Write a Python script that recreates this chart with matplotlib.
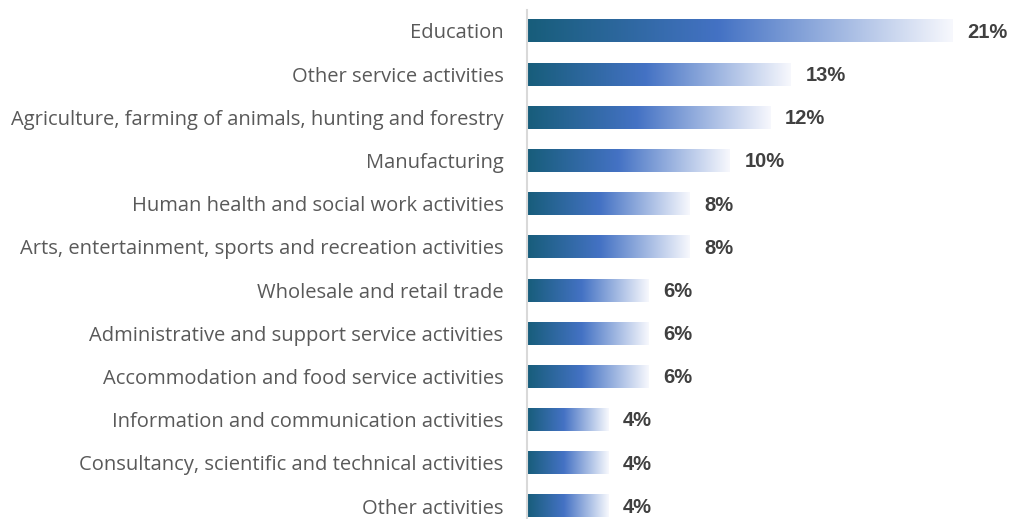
import numpy as np
import matplotlib.pyplot as plt
from matplotlib.colors import LinearSegmentedColormap

sectors = ['Education',
           'Other service activities',
           'Agriculture, farming of animals, hunting and forestry',
           'Manufacturing',
           'Human health and social work activities',
           'Arts, entertainment, sports and recreation activities',
           'Wholesale and retail trade',
           'Administrative and support service activities',
           'Accommodation and food service activities',
           'Information and communication activities',
           'Consultancy, scientific and technical activities',
           'Other activities']
shares = [21, 13, 12, 10, 8, 8, 6, 6, 6, 4, 4, 4]

plt.rcParams['font.family'] = ['Open Sans', 'DejaVu Sans']

# teal -> blue -> near white, stretched over each bar
grad = LinearSegmentedColormap.from_list(
    'bar', [(0.0, '#175d7a'), (0.45, '#4472c4'), (1.0, '#f7f8fd')])
ramp = np.linspace(0, 1, 256).reshape(1, -1)

fig = plt.figure(figsize=(10.11, 5.19), dpi=100)
ax = fig.add_axes([527 / 1011, 0, 1 - 527 / 1011, 509 / 519])

h = 0.53
for i, v in enumerate(shares):
    ax.imshow(ramp, cmap=grad, aspect='auto', interpolation='bicubic',
              extent=[0, v, i + h / 2, i - h / 2], zorder=2)
    ax.text(v + 0.72, i + 0.03, f'{v}%', va='center', ha='left', fontsize=14.5,
            fontweight='bold', color='#404040', family='Liberation Sans')

ax.set_xlim(0, 21 * 484 / 426)
ax.set_ylim(11.30, -0.486)
ax.set_yticks(range(len(sectors)))
ax.set_yticklabels(sectors, fontsize=14.5, color='#595959')
ax.tick_params(axis='y', length=0, pad=17)
ax.set_xticks([])
for side in ['top', 'right', 'bottom']:
    ax.spines[side].set_visible(False)
ax.spines['left'].set_color('#d9d9d9')
ax.spines['left'].set_linewidth(1.5)

fig.savefig('out.png', dpi=100)
